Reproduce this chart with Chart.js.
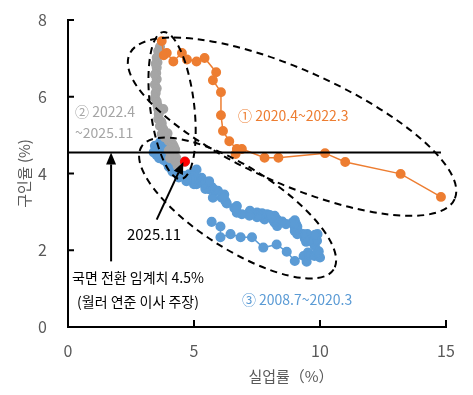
<!DOCTYPE html>
<html><head><meta charset="utf-8">
<script src="https://cdn.jsdelivr.net/npm/chart.js@4/dist/chart.umd.min.js"></script>
<style>html,body{margin:0;padding:0;background:#fff}#wrap{width:473px;height:395px;position:relative}</style>
</head><body><div id="wrap"><canvas id="c" width="473" height="395"></canvas></div>
<script>
// ---- data (unemployment %, job openings %) ----
const xTicks = [0, 5, 10, 15];
const yTicks = [0, 2, 4, 6, 8];
const xTitle = '실업률（%）';
const yTitle = '구인율 (%)';
const threshold = 4.55;
const thresholdEndX = 14.8;

const series2020 = [ // ① 2020.4~2022.3
  [14.8,3.39],[13.2,3.99],[11.0,4.30],[10.2,4.53],[8.35,4.41],[7.8,4.41],[6.9,4.64],[6.65,4.51],[6.7,4.64],
  [6.4,4.84],[6.15,5.11],[6.07,5.52],[6.07,6.12],[5.75,6.43],[5.88,6.64],[5.42,7.01],[5.1,6.92],[4.72,6.97],
  [4.52,7.14],[4.18,6.92],[3.92,7.14],[3.8,7.08],[3.72,7.45]
];
const series2022 = [ // ② 2022.4~2025.11
  [3.65,7.30],[3.58,7.19],[3.52,7.02],[3.55,6.90],[3.52,6.76],[3.48,6.86],[3.50,6.62],[3.52,6.46],[3.45,6.58],
  [3.45,6.32],[3.52,6.22],[3.48,6.10],[3.45,5.98],[3.52,5.88],[3.55,5.78],[3.58,5.68],[3.78,5.68],[3.60,5.55],[3.58,5.42],[3.70,5.35],[3.65,5.24],
  [3.72,5.30],[3.78,5.16],[3.72,5.03],[3.85,4.94],[3.95,5.05],[4.00,4.85],[4.15,4.77],[4.11,4.68],[4.25,4.63],[4.10,4.55],[4.20,4.70],[4.11,4.46],
  [4.00,4.60],[4.10,4.50],[4.20,4.45],[4.20,4.58],[4.25,4.33],[4.05,4.40],[4.30,4.40],[4.30,4.30],[4.35,4.20],[4.40,4.28],[4.64,4.31]
];
const series2008 = [ // ③ 2008.7~2020.3
  [5.70,2.74],[6.05,2.62],[6.05,2.34],[6.45,2.42],[6.85,2.34],[7.30,2.34],[7.75,2.07],[8.28,2.15],[8.68,1.96],[9.00,1.72],[9.35,1.85],[9.52,1.94],[9.47,1.70],[9.60,1.88],[9.78,1.85],[10.0,1.81],[9.90,1.90],[9.95,1.97],
  [9.80,2.10],[9.75,2.18],[9.88,2.25],[9.90,2.42],[9.60,2.34],[9.45,2.22],[9.45,2.35],[9.55,2.25],[9.50,2.42],[9.40,2.30],[9.80,2.40],[9.33,2.42],
  [9.10,2.42],[9.00,2.50],[9.00,2.60],[9.10,2.55],[9.05,2.68],[9.10,2.62],[9.00,2.72],[9.00,2.65],[9.00,2.78],[8.90,2.72],[8.65,2.68],[8.50,2.75],
  [8.30,2.63],[8.30,2.80],[8.20,2.86],[8.15,2.78],[8.20,2.90],[8.20,2.72],[8.20,2.80],[8.10,2.86],[7.80,2.80],[7.85,2.92],[7.75,2.86],[7.90,2.94],
  [8.00,2.92],[7.70,2.96],[7.50,2.98],[7.60,2.89],[7.50,2.94],[7.50,2.86],[7.30,2.94],[7.20,2.98],[7.22,3.03],[7.20,2.90],[6.90,2.94],[6.70,2.98],
  [6.60,3.10],[6.70,3.15],[6.65,3.08],[6.25,3.28],[6.30,3.22],[6.10,3.37],[6.20,3.45],[6.15,3.38],[5.95,3.55],[5.75,3.37],[5.80,3.58],[5.60,3.59],
  [5.70,3.65],[5.55,3.76],[5.45,3.60],[5.40,3.72],[5.60,3.80],[5.30,3.89],[5.25,3.80],[5.10,3.72],[5.05,3.78],[5.00,3.72],[5.10,3.88],[5.00,3.82],
  [4.90,3.88],[4.90,3.98],[5.00,3.82],[5.10,4.10],[4.80,3.92],[4.90,3.88],[4.80,3.98],[4.90,3.90],[5.00,3.95],[4.90,3.86],[4.70,3.80],[4.70,3.90],
  [4.70,3.85],[4.60,3.94],[4.40,3.94],[4.40,3.98],[4.40,3.90],[4.30,4.03],[4.30,4.10],[4.40,4.00],[4.20,4.10],[4.15,4.05],[4.20,4.15],[4.10,4.12],
  [4.00,4.20],[4.10,4.25],[4.00,4.18],[3.92,4.29],[3.80,4.35],[4.00,4.40],[3.80,4.38],[3.80,4.55],[3.70,4.65],[3.80,4.62],[3.75,4.50],[3.90,4.52],
  [4.00,4.55],[3.80,4.60],[3.80,4.68],[3.65,4.50],[3.62,4.40],[3.60,4.55],[3.70,4.62],[3.65,4.81],[3.52,4.71],[3.55,4.50],[3.40,4.55],[3.45,4.72],
  [3.50,4.60],[3.52,4.48],[4.40,3.94]
];
const latest = [[4.64,4.31]]; // 2025.11

// ---- annotation layout (data coordinates) ----
const labels = [
  {text:'② 2022.4', x:0.28, y:5.61, color:'#a5a5a5', size:14},
  {text:'~2025.11', x:0.28, y:5.07, color:'#a5a5a5', size:14},
  {text:'① 2020.4~2022.3', x:6.75, y:5.51, color:'#ed7d31', size:14},
  {text:'③ 2008.7~2020.3', x:6.90, y:0.72, color:'#5b9bd5', size:14},
  {text:'2025.11', x:2.34, y:2.41, color:'#000', size:15},
  {text:'국면 전환 임계치 4.5%', x:0.16, y:1.29, color:'#000', size:14},
  {text:'(월러 연준 이사 주장)', x:0.36, y:0.66, color:'#000', size:14}
];
const arrows = [
  {from:[1.71,1.71], to:[1.71,4.55]},
  {from:[3.52,2.80], to:[4.58,4.30]}
];
const rings = [ // center in data units, semi-axes in px, rotation in degrees
  {cx:8.89, cy:5.22, a:178, b:57, rot:24},
  {cx:4.13, cy:5.77, a:22, b:74, rot:-7},
  {cx:6.73, cy:3.10, a:114, b:41, rot:32.6}
];

const FONT = '"Noto Sans CJK KR", "Noto Sans", sans-serif';
const toXY = arr => arr.map(p => ({x:p[0], y:p[1]}));

const overlay = {
  id:'overlay',
  afterDatasetsDraw(chart){
    const {ctx, scales:{x, y}} = chart;
    ctx.save();
    ctx.strokeStyle = '#000'; ctx.lineWidth = 2; ctx.setLineDash([]);
    ctx.beginPath();
    ctx.moveTo(x.getPixelForValue(0), y.getPixelForValue(threshold));
    ctx.lineTo(x.getPixelForValue(thresholdEndX), y.getPixelForValue(threshold));
    ctx.stroke();
    ctx.setLineDash([7,5]); ctx.lineWidth = 2;
    rings.forEach(r => {
      ctx.beginPath();
      ctx.ellipse(x.getPixelForValue(r.cx), y.getPixelForValue(r.cy), r.a, r.b, r.rot*Math.PI/180, 0, Math.PI*2);
      ctx.stroke();
    });
    ctx.setLineDash([]);
    arrows.forEach(a => {
      const x1 = x.getPixelForValue(a.from[0]), y1 = y.getPixelForValue(a.from[1]);
      const x2 = x.getPixelForValue(a.to[0]), y2 = y.getPixelForValue(a.to[1]);
      const ang = Math.atan2(y2-y1, x2-x1), L = 12, W = 5;
      const bx = x2 - L*Math.cos(ang), by = y2 - L*Math.sin(ang);
      ctx.lineWidth = 2; ctx.strokeStyle = '#000'; ctx.fillStyle = '#000';
      ctx.beginPath(); ctx.moveTo(x1,y1); ctx.lineTo(bx,by); ctx.stroke();
      ctx.beginPath();
      ctx.moveTo(x2,y2);
      ctx.lineTo(bx + W*Math.sin(ang), by - W*Math.cos(ang));
      ctx.lineTo(bx - W*Math.sin(ang), by + W*Math.cos(ang));
      ctx.closePath(); ctx.fill();
    });
    ctx.textBaseline = 'middle'; ctx.textAlign = 'left';
    labels.forEach(l => {
      ctx.font = l.size + 'px ' + FONT;
      ctx.fillStyle = l.color;
      ctx.fillText(l.text, x.getPixelForValue(l.x), y.getPixelForValue(l.y));
    });
    ctx.restore();
  },
  afterDraw(chart){
    const {ctx, chartArea:ca, scales:{x, y}} = chart;
    ctx.save();
    ctx.strokeStyle = '#000'; ctx.lineWidth = 2;
    yTicks.forEach(v => { if (v === 0) return; const py = y.getPixelForValue(v);
      ctx.beginPath(); ctx.moveTo(ca.left, py); ctx.lineTo(ca.left + 6, py); ctx.stroke(); });
    xTicks.forEach(v => { if (v === 0) return; const px = x.getPixelForValue(v);
      ctx.beginPath(); ctx.moveTo(px, ca.bottom); ctx.lineTo(px, ca.bottom - 7); ctx.stroke(); });
    ctx.fillStyle = '#595959';
    ctx.font = '15px ' + FONT;
    ctx.textAlign = 'center'; ctx.textBaseline = 'middle';
    ctx.fillText(xTitle, 291, 376);
    ctx.translate(24, (ca.top + ca.bottom)/2);
    ctx.rotate(-Math.PI/2);
    ctx.fillText(yTitle, 0, 0);
    ctx.restore();
  }
};

new Chart(document.getElementById('c'), {
  type:'scatter',
  data:{datasets:[
    {label:'2025.11', data:toXY(latest), pointRadius:4.5, pointBackgroundColor:'#ff0000', pointBorderColor:'#ff0000', showLine:false, order:0},
    {label:'2020.4~2022.3', data:toXY(series2020), showLine:true, borderColor:'#ed7d31', backgroundColor:'#ed7d31', pointBackgroundColor:'#ed7d31', pointBorderColor:'#ed7d31', borderWidth:1.5, pointRadius:4.2, order:1},
    {label:'2022.4~2025.11', data:toXY(series2022), showLine:true, borderColor:'#a5a5a5', backgroundColor:'#a5a5a5', pointBackgroundColor:'#a5a5a5', pointBorderColor:'#a5a5a5', borderWidth:1.5, pointRadius:4.3, order:2},
    {label:'2008.7~2020.3', data:toXY(series2008), showLine:true, borderColor:'#5b9bd5', backgroundColor:'#5b9bd5', pointBackgroundColor:'#5b9bd5', pointBorderColor:'#5b9bd5', borderWidth:1.5, pointRadius:4.3, order:3}
  ]},
  options:{
    responsive:false, animation:false, devicePixelRatio:1,
    layout:{padding:{top:20, right:27, left:0, bottom:0}},
    plugins:{legend:{display:false}, tooltip:{enabled:false}},
    scales:{
      x:{type:'linear', min:0, max:15,
        afterFit:s=>{s.height = 68; s.paddingLeft = 0; s.paddingRight = 0;},
        afterBuildTicks:s=>{s.ticks = xTicks.map(v=>({value:v}));},
        grid:{display:false, drawTicks:false}, border:{display:true, color:'#000', width:2},
        ticks:{padding:14, color:'#595959', font:{family:FONT, size:16}}},
      y:{type:'linear', min:0, max:8,
        afterFit:s=>{s.width = 68; s.paddingTop = 0; s.paddingBottom = 0;},
        afterBuildTicks:s=>{s.ticks = yTicks.map(v=>({value:v}));},
        grid:{display:false, drawTicks:false}, border:{display:true, color:'#000', width:2},
        ticks:{padding:21, color:'#595959', font:{family:FONT, size:16}}}
    }
  },
  plugins:[overlay]
});
</script></body></html>
